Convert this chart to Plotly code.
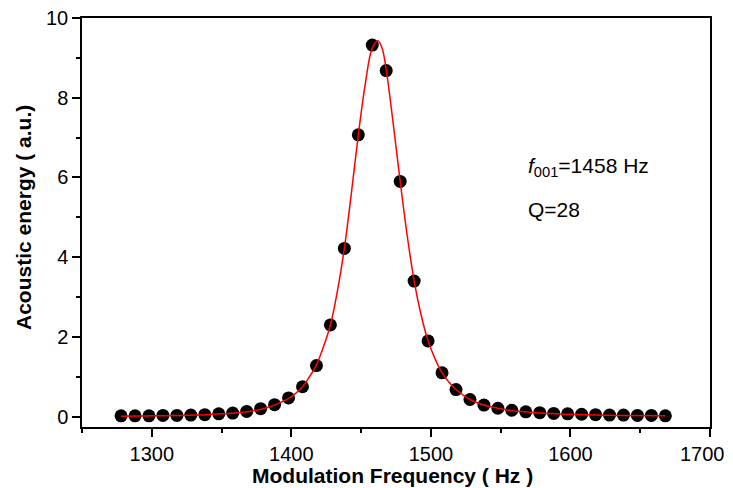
import plotly.graph_objects as go

# Measured data points
freq = [1278, 1288, 1298, 1308, 1318, 1328, 1338, 1348, 1358, 1368,
        1378, 1388, 1398, 1408, 1418, 1428, 1438, 1448, 1458, 1468,
        1478, 1488, 1498, 1508, 1518, 1528, 1538, 1548, 1558, 1568,
        1578, 1588, 1598, 1608, 1618, 1628, 1638, 1648, 1658, 1668]
energy = [0.02, 0.02, 0.02, 0.03, 0.03, 0.04, 0.05, 0.07, 0.09, 0.13,
          0.20, 0.30, 0.47, 0.75, 1.28, 2.30, 4.22, 7.07, 9.32, 8.68,
          5.90, 3.40, 1.90, 1.10, 0.68, 0.43, 0.29, 0.21, 0.16, 0.12,
          0.10, 0.08, 0.07, 0.06, 0.05, 0.04, 0.04, 0.03, 0.03, 0.02]

# Fit curve
fit_x = [1278, 1290, 1300, 1310, 1320, 1330, 1340, 1350, 1360, 1370,
         1380, 1390, 1400, 1408, 1413, 1418, 1423, 1428, 1433, 1438,
         1443, 1448, 1453, 1458, 1462, 1465, 1468, 1473, 1478, 1483,
         1488, 1493, 1498, 1503, 1508, 1513, 1518, 1528, 1538, 1548,
         1558, 1568, 1578, 1598, 1618, 1638, 1668]
fit_y = [0.01, 0.015, 0.02, 0.025, 0.03, 0.04, 0.05, 0.07, 0.09, 0.13,
         0.20, 0.32, 0.50, 0.75, 1.00, 1.30, 1.75, 2.30, 3.15, 4.22,
         5.60, 7.07, 8.35, 9.25, 9.43, 9.25, 8.70, 7.35, 5.90, 4.55,
         3.40, 2.55, 1.90, 1.45, 1.10, 0.86, 0.68, 0.43, 0.29, 0.21,
         0.15, 0.12, 0.09, 0.06, 0.04, 0.03, 0.02]

x_ticks = [1300, 1400, 1500, 1600, 1700]
x_tick_labels = ["1300", "1400", "1500", "1600", "1700"]
y_ticks = [0, 2, 4, 6, 8, 10]

x_title = "<b>Modulation Frequency ( Hz )</b>"
y_title = "<b>Acoustic energy ( a.u.)</b>"
label_f = "<i>f</i><sub>001</sub>=1458 Hz"
label_q = "Q=28"

FONT = "Liberation Sans, Arial, sans-serif"
OFF = 8  # page body margin
W, H = 733 - OFF, 488 - OFF
L, R, T, B = 82 - OFF, 23, 18 - OFF, 61
pw, ph = W - L - R, H - T - B


def px(xs):
    return (xs - OFF - L) / pw


def py(ys):
    return 1 - (ys - OFF - T) / ph


fig = go.Figure()
fig.add_trace(go.Scatter(x=freq, y=energy, mode="markers",
                         marker=dict(color="black", size=13), showlegend=False))
fig.add_trace(go.Scatter(x=fit_x, y=fit_y, mode="lines",
                         line=dict(color="#ff0000", width=1.5, shape="spline"),
                         showlegend=False))

axis_common = dict(showline=True, linecolor="black", linewidth=1.5, mirror=True,
                   showgrid=False, zeroline=False, ticks="outside", ticklen=8,
                   tickwidth=1.5, tickcolor="black", automargin=False,
                   ticklabeloverflow="allow",
                   tickfont=dict(family=FONT, size=20, color="black"))

# last x label sits at the right edge: drawn as an annotation so it is not clipped
fig.update_xaxes(range=[1250, 1700], tickvals=x_ticks,
                 ticktext=x_tick_labels[:-1] + [""],
                 minor=dict(ticks="outside", ticklen=4, tickwidth=1.5,
                            tickcolor="black", dtick=50, tick0=1250),
                 **axis_common)
fig.update_yaxes(range=[-0.26, 10], tickvals=y_ticks,
                 minor=dict(ticks="outside", ticklen=4, tickwidth=1.5,
                            tickcolor="black", dtick=1, tick0=0),
                 **axis_common)

fig.add_annotation(x=px(727), y=py(454), xref="paper", yref="paper",
                   text=x_tick_labels[-1], showarrow=False,
                   xanchor="right", yanchor="middle",
                   font=dict(family=FONT, size=20, color="black"))
fig.add_annotation(x=px(392), y=py(475), xref="paper", yref="paper",
                   text=x_title, showarrow=False,
                   xanchor="center", yanchor="middle",
                   font=dict(family=FONT, size=21, color="black"))
fig.add_annotation(x=px(23), y=py(218), xref="paper", yref="paper",
                   text=y_title, showarrow=False, textangle=-90,
                   xanchor="center", yanchor="middle",
                   font=dict(family=FONT, size=21, color="black"))
fig.add_annotation(x=px(526), y=py(167), xref="paper", yref="paper",
                   text=label_f, showarrow=False,
                   xanchor="left", yanchor="middle",
                   font=dict(family=FONT, size=21, color="black"))
fig.add_annotation(x=px(526), y=py(210), xref="paper", yref="paper",
                   text=label_q, showarrow=False,
                   xanchor="left", yanchor="middle",
                   font=dict(family=FONT, size=21, color="black"))

fig.update_layout(width=W, height=H, margin=dict(l=L, r=R, t=T, b=B),
                  paper_bgcolor="white", plot_bgcolor="white",
                  font=dict(family=FONT, color="black"))

fig.write_html("out.html")
